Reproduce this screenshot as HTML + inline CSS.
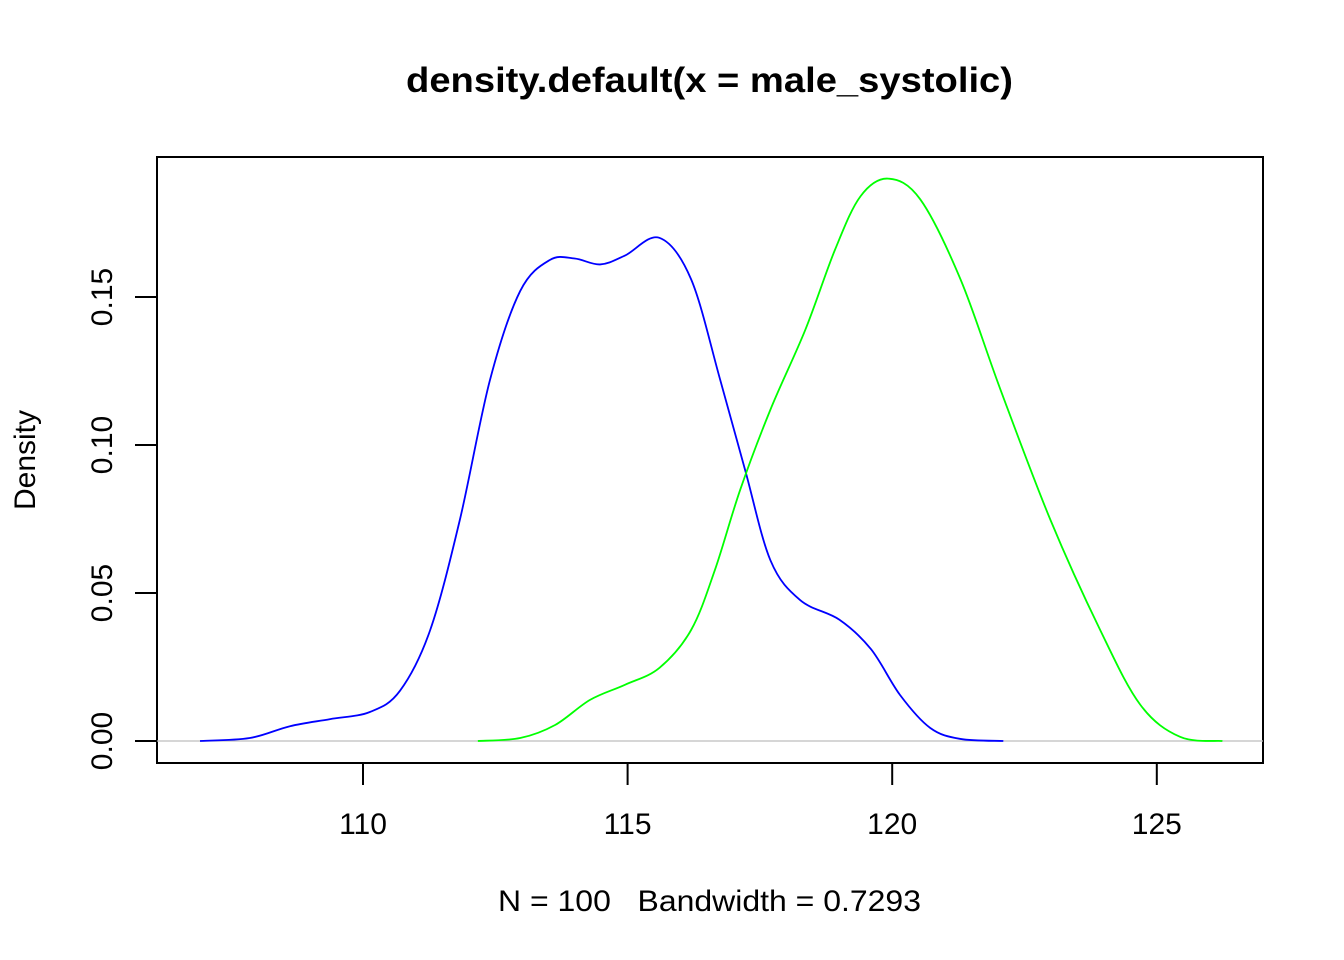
<!DOCTYPE html>
<html><head><meta charset="utf-8"><style>
html,body{margin:0;padding:0;background:#fff}
svg{display:block;font-family:"Liberation Sans",Arial,sans-serif}
</style></head><body>
<svg id="chart" width="1344" height="960" viewBox="0 0 1344 960">
<rect width="1344" height="960" fill="#fff"/>
<text x="406" y="92" textLength="607" lengthAdjust="spacingAndGlyphs" font-size="35" font-weight="bold">density.default(x = male_systolic)</text>
<text x="498" y="911" textLength="423" lengthAdjust="spacingAndGlyphs" font-size="30" xml:space="preserve" style="white-space:pre">N = 100   Bandwidth = 0.7293</text>
<text transform="translate(35,460) rotate(-90)" text-anchor="middle" font-size="30">Density</text>
<rect x="157" y="157" width="1106" height="606" fill="none" stroke="#000" stroke-width="2"/>
<g id="xaxis"></g>
<g id="yaxis"></g>
<g id="series"></g>
</svg>
<script>
const xTicks=[110,115,120,125];
const yTicks=[0,0.05,0.10,0.15];
const yTickLabels=["0.00","0.05","0.10","0.15"];
const blueX=[106.92,107.86,108.62,109.38,110.13,110.7,111.27,111.83,112.4,112.97,113.53,114.0,114.48,114.95,115.6,116.2,116.75,117.22,117.7,118.26,119.0,119.6,120.15,120.72,121.29,122.1];
const blueY=[0,0.001,0.005,0.0074,0.0098,0.017,0.0375,0.0747,0.122,0.152,0.1625,0.163,0.161,0.164,0.17,0.156,0.122,0.0916,0.061,0.0476,0.041,0.031,0.0155,0.0044,0.0007,0];
const greenX=[112.17,112.97,113.63,114.29,114.95,115.6,116.2,116.65,117.13,117.7,118.36,118.92,119.4,119.92,120.53,121.29,122.04,122.99,123.93,124.69,125.44,126.24];
const greenY=[0,0.001,0.0054,0.0139,0.019,0.0247,0.0375,0.0578,0.085,0.112,0.139,0.166,0.184,0.19,0.183,0.156,0.119,0.0747,0.0375,0.0122,0.0014,0];
const NS="http://www.w3.org/2000/svg";
function sx(v){return 363+(v-110)*52.92;}
function sy(v){return 741-v*2960;}
function mk(t,a,p){const e=document.createElementNS(NS,t);for(const k in a)e.setAttribute(k,a[k]);p.appendChild(e);return e;}
const xa=document.getElementById('xaxis'),ya=document.getElementById('yaxis'),sg=document.getElementById('series');
mk('line',{x1:sx(110),x2:sx(125),y1:763,y2:763,stroke:'#000','stroke-width':2},xa);
xTicks.forEach(t=>{
 const l=mk('line',{x1:sx(t),x2:sx(t),y1:763,y2:785,stroke:'#000','stroke-width':2},xa);
 
 
 const tx=mk('text',{x:sx(t),y:834,'text-anchor':'middle','font-size':30},xa);tx.textContent=t;
 
 
});
mk('line',{x1:157,x2:157,y1:sy(0),y2:sy(0.15),stroke:'#000','stroke-width':2},ya);
yTicks.forEach((t,i)=>{
 const l=mk('line',{x1:135,x2:157,y1:sy(t),y2:sy(t),stroke:'#000','stroke-width':2},ya);
 
 
 const tx=mk('text',{transform:`translate(112,${sy(t)}) rotate(-90)`,'text-anchor':'middle','font-size':30},ya);tx.textContent=yTickLabels[i];
 
 
});
const base=mk('line',{x1:157,x2:1263,y1:sy(0),y2:sy(0),stroke:'#bebebe','stroke-width':1.2},sg);


function path(xs,ys){
 const p=xs.map((x,i)=>[sx(x),sy(ys[i])]);
 let d=`M${p[0][0]},${p[0][1]}`;
 for(let i=0;i<p.length-1;i++){
  const p0=p[i-1]||p[i],p1=p[i],p2=p[i+1],p3=p[i+2]||p2;
  const c1=[p1[0]+(p2[0]-p0[0])/6,p1[1]+(p2[1]-p0[1])/6],c2=[p2[0]-(p3[0]-p1[0])/6,p2[1]-(p3[1]-p1[1])/6];
  d+=` C${c1[0]},${c1[1]} ${c2[0]},${c2[1]} ${p2[0]},${p2[1]}`;
 }
 return d;
}
const b=mk('path',{d:path(blueX,blueY),fill:'none',stroke:'#0000ff','stroke-width':1.8},sg);


const g=mk('path',{d:path(greenX,greenY),fill:'none',stroke:'#00ff00','stroke-width':1.8},sg);


</script>
</body></html>
